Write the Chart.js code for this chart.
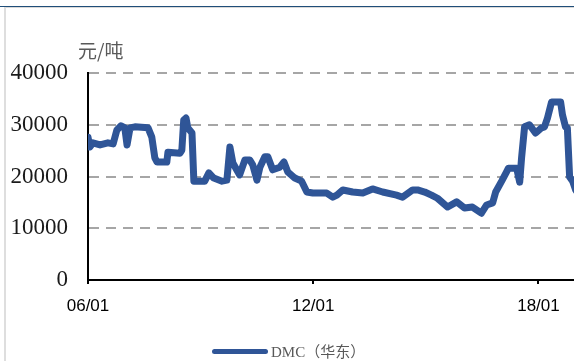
<!DOCTYPE html>
<html>
<head>
<meta charset="utf-8">
<script src="https://cdn.jsdelivr.net/npm/chart.js@4"></script>
<style>
  html, body { margin: 0; padding: 0; background: #fff; overflow: hidden; }
  #wrap { position: relative; width: 574px; height: 361px; overflow: hidden; }
  #topLine { position: absolute; left: 0; top: 6px; width: 574px; height: 1px; background: #1F4E79; }
  #topLine2 { position: absolute; left: 4px; top: 7px; width: 570px; height: 1px; background: #d9d9d9; }
  #leftLine { position: absolute; left: 4px; top: 7px; width: 2px; height: 354px; background: #dedede; }
  #unit { position: absolute; left: 78px; top: 36px; font: 19px "Noto Sans CJK SC", sans-serif; color: #595959; }
  #legend { position: absolute; left: 212px; top: 340px; height: 20px; }
  #legend .bar { position: absolute; left: 0; top: 9px; width: 56px; height: 5px; border-radius: 3px; background: #2F5597; }
  #legend .txt { position: absolute; left: 59px; top: 0; white-space: nowrap; font: 15px "Liberation Serif", "Noto Sans CJK SC", serif; color: #595959; }
  canvas { position: absolute; left: 0; top: 0; }
</style>
</head>
<body>
<div id="wrap">
  <div id="topLine"></div>
  <div id="topLine2"></div>
  <div id="leftLine"></div>
  <canvas id="lineChart" width="576" height="361"></canvas>
  <div id="unit">元/吨</div>
  <div id="legend"><span class="bar"></span><span class="txt">DMC（华东）</span></div>
</div>
<script>
// DMC华东价格，按年份小数记录
const dates = [
  2006.00, 2006.05, 2006.13, 2006.32, 2006.53, 2006.67, 2006.77, 2006.88, 2006.98, 2007.04,
  2007.12, 2007.25, 2007.60, 2007.70, 2007.78, 2007.84, 2008.10, 2008.13, 2008.45, 2008.50,
  2008.55, 2008.61, 2008.66, 2008.77, 2008.82, 2009.11, 2009.22, 2009.35, 2009.57, 2009.70,
  2009.78, 2009.86, 2009.96, 2010.04, 2010.18, 2010.31, 2010.39, 2010.50, 2010.58, 2010.71,
  2010.79, 2010.92, 2011.11, 2011.22, 2011.32, 2011.51, 2011.69, 2011.83, 2011.99, 2012.36,
  2012.52, 2012.63, 2012.79, 2013.05, 2013.32, 2013.58, 2013.85, 2014.22, 2014.38, 2014.65,
  2014.78, 2014.97, 2015.15, 2015.31, 2015.58, 2015.82, 2016.03, 2016.24, 2016.48, 2016.62,
  2016.78, 2016.86, 2017.02, 2017.15, 2017.20, 2017.42, 2017.50, 2017.55, 2017.63, 2017.76,
  2017.92, 2018.08, 2018.16, 2018.24, 2018.35, 2018.59, 2018.64, 2018.72, 2018.77, 2018.83,
  2018.91, 2018.99, 2019.09
];
const prices = [
  27600, 25700, 26500, 26100, 26500, 26300, 29000, 29800, 29400, 26100,
  29400, 29600, 29400, 27600, 23600, 22800, 22800, 24700, 24500, 25100,
  30900, 31300, 29400, 28400, 19100, 19100, 20700, 19700, 19100, 19300,
  25700, 22600, 21300, 20300, 23200, 23200, 22200, 19300, 21800, 23800,
  23800, 21300, 21800, 22800, 20900, 19700, 19100, 17000, 16800, 16800,
  16000, 16400, 17400, 17000, 16800, 17600, 17000, 16400, 16000, 17400,
  17400, 17000, 16400, 15800, 14100, 15100, 13900, 14100, 12900, 14500,
  14900, 17000, 19100, 20900, 21600, 21600, 18900, 23600, 29600, 30000,
  28400, 29400, 29600, 31300, 34400, 34400, 31900, 29600, 29400, 19900,
  19100, 17400, 16400
];
const tickYears = [2006, 2012, 2018];
const tickLabels = ["06/01", "12/01", "18/01"];
const yTicks = [0, 10000, 20000, 30000, 40000];

const points = dates.map((d, i) => ({ x: d, y: prices[i] }));

const ctx = document.getElementById("lineChart").getContext("2d");
const myChart = new Chart(ctx, {
  type: "line",
  data: {
    datasets: [
      {
        label: "DMC（华东）",
        data: points,
        borderColor: "#2F5597",
        backgroundColor: "#2F5597",
        borderWidth: 7,
        pointRadius: 0,
        tension: 0,
        fill: false,
        borderJoinStyle: "round",
        borderCapStyle: "round",
      },
    ],
  },
  options: {
    responsive: false,
    animation: false,
    layout: { padding: { top: 73, right: 0, left: 0, bottom: 0 } },
    plugins: {
      legend: { display: false },
      tooltip: { enabled: false },
    },
    scales: {
      x: {
        type: "linear",
        min: 2006,
        max: 2019,
        afterBuildTicks: (scale) => {
          scale.ticks = tickYears.map((v) => ({ value: v }));
        },
        afterFit: (scale) => {
          scale.height = 81;
        },
        ticks: {
          padding: 12,
          color: "#000",
          font: { family: "Liberation Sans", size: 17 },
          maxRotation: 0,
          callback: (value) => tickLabels[tickYears.indexOf(value)],
        },
        grid: {
          drawOnChartArea: false,
          drawTicks: true,
          tickLength: 4,
          color: "#000",
          lineWidth: 2,
        },
        border: { color: "#000", width: 2 },
      },
      y: {
        min: 0,
        max: 40000,
        afterBuildTicks: (scale) => {
          scale.ticks = yTicks.map((v) => ({ value: v }));
        },
        afterFit: (scale) => {
          scale.width = 88;
        },
        ticks: {
          padding: 20,
          color: "#1a1a1a",
          font: { family: "Liberation Serif", size: 23 },
          callback: (value) => String(value),
        },
        grid: {
          drawTicks: false,
          lineWidth: 2,
          color: (c) => (c.tick && c.tick.value === 0 ? "rgba(0,0,0,0)" : "#A6A6A6"),
        },
        border: { color: "#000", width: 2, dash: [10, 7] },
      },
    },
  },
});
</script>
</body>
</html>
